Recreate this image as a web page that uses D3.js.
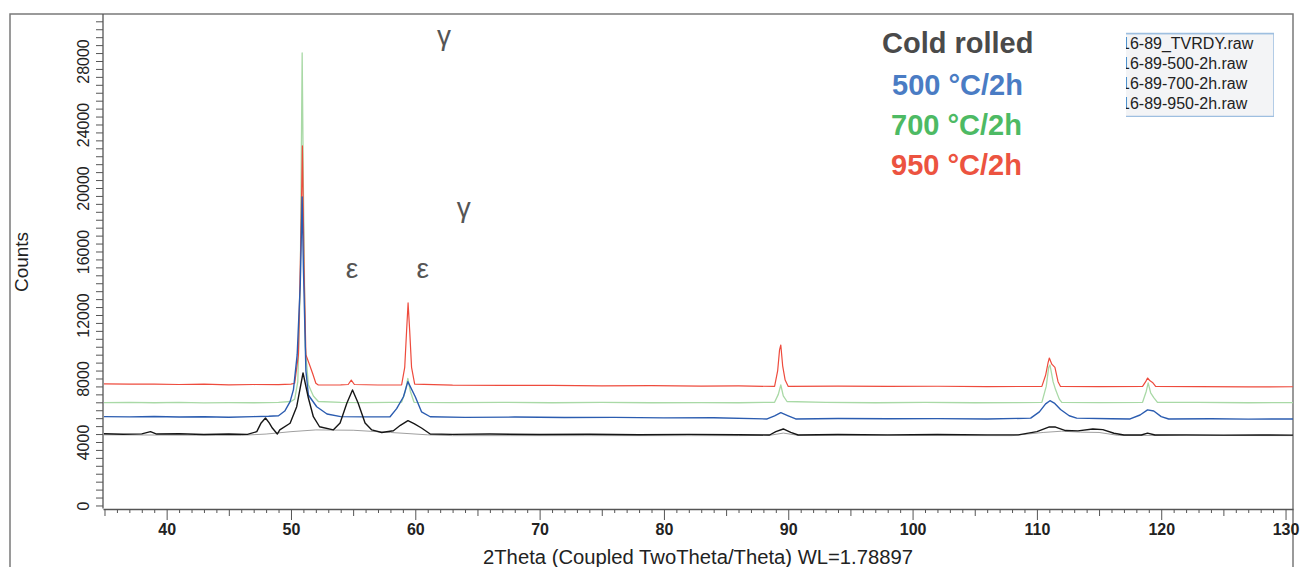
<!DOCTYPE html>
<html>
<head>
<meta charset="utf-8">
<script src="https://cdn.jsdelivr.net/npm/d3@7"></script>
<style>
  body { margin: 0; background: #fff; }
  svg { display: block; font-family: "Liberation Sans", Arial, sans-serif; }
</style>
</head>
<body>
<svg id="chart" width="1300" height="567"></svg>
<script>
// 2theta (deg) vs counts
const coldRolled = [
  [34.9, 4520], [36.5, 4490], [38.0, 4510], [38.7, 4650], [39.2, 4500], [41.0, 4520], [43.0, 4470],
  [45.0, 4500], [46.5, 4480], [47.25, 4650], [47.6, 5200], [47.95, 5510], [48.25, 5200], [48.5, 4880],
  [48.9, 4500], [49.1, 4760], [49.93, 5180], [50.46, 6220], [50.97, 8350], [51.4, 6770], [51.8, 5590],
  [52.3, 4960], [53.4, 4760], [53.95, 5200], [54.5, 6460], [54.95, 7280], [55.4, 6460], [55.96, 5200],
  [56.5, 4760], [57.3, 4600], [58.24, 4710], [58.8, 5050], [59.41, 5340], [59.9, 5150], [60.5, 4880],
  [61.2, 4500], [63.0, 4480], [66.0, 4500], [70.0, 4470], [74.0, 4490], [78.0, 4460], [82.0, 4480],
  [86.0, 4460], [88.5, 4440], [89.0, 4650], [89.6, 4820], [90.2, 4600], [90.8, 4440], [94.0, 4470],
  [98.0, 4450], [102.0, 4470], [106.0, 4450], [108.5, 4450], [110.0, 4650], [111.0, 4950], [111.5, 4940],
  [112.3, 4720], [113.3, 4700], [114.5, 4820], [115.3, 4780], [116.2, 4550], [117.0, 4440], [118.4, 4440],
  [118.9, 4560], [119.5, 4440], [122.0, 4450], [125.0, 4430], [128.0, 4440], [130.6, 4430]
];

const coldBackground = [
  [34.9, 4450], [46.0, 4420], [48.0, 4500], [50.0, 4650], [52.0, 4760], [55.0, 4740], [58.0, 4600],
  [61.0, 4450], [63.0, 4400], [86.0, 4400], [88.5, 4420], [89.6, 4560], [90.8, 4420], [108.0, 4400],
  [110.5, 4600], [112.0, 4680], [113.5, 4620], [115.0, 4600], [116.5, 4420], [130.6, 4400]
];

const t500 = [
  [34.9, 5600], [37.0, 5580], [39.0, 5610], [41.0, 5570], [43.0, 5590], [45.0, 5560], [47.0, 5600],
  [48.2, 5620], [49.0, 5650], [49.5, 5950], [49.93, 6540], [50.2, 7300], [50.5, 9500], [50.75, 14000],
  [50.9, 19440], [51.0, 15000], [51.2, 8500], [51.4, 6960], [52.07, 6220], [52.9, 5760], [54.0, 5600],
  [56.0, 5580], [57.97, 5590], [58.5, 6100], [59.05, 6850], [59.4, 7800], [60.0, 6850], [60.5, 5900],
  [61.2, 5590], [64.0, 5550], [68.0, 5570], [72.0, 5540], [76.0, 5550], [80.0, 5520], [84.0, 5530],
  [88.3, 5450], [88.9, 5650], [89.4, 5850], [90.0, 5650], [90.6, 5450], [94.0, 5480], [98.0, 5460],
  [102.0, 5470], [106.0, 5450], [109.5, 5500], [110.2, 5900], [110.7, 6400], [111.05, 6600], [111.4, 6450],
  [111.9, 6050], [112.6, 5650], [113.2, 5500], [116.0, 5460], [117.5, 5450], [118.3, 5700], [118.9, 6020],
  [119.4, 5950], [120.0, 5600], [120.6, 5450], [124.0, 5460], [127.0, 5440], [130.6, 5450]
];

const t700 = [
  [34.9, 6480], [37.0, 6500], [39.0, 6470], [41.0, 6490], [43.0, 6460], [45.0, 6480], [47.0, 6470],
  [49.0, 6490], [50.0, 6550], [50.3, 6700], [50.55, 7800], [50.75, 14000], [50.9, 28510], [51.0, 20000],
  [51.15, 10000], [51.4, 7600], [51.8, 6900], [52.2, 6550], [54.0, 6500], [56.0, 6480], [58.0, 6490],
  [58.9, 6500], [59.2, 7200], [59.4, 8000], [59.6, 7200], [59.9, 6500], [63.0, 6480], [67.0, 6500],
  [71.0, 6470], [75.0, 6490], [79.0, 6470], [83.0, 6480], [86.0, 6470], [88.9, 6500], [89.2, 7000],
  [89.4, 7590], [89.6, 6900], [89.9, 6550], [93.0, 6490], [97.0, 6470], [101.0, 6490], [105.0, 6470],
  [108.0, 6480], [110.4, 6500], [110.75, 7500], [110.95, 8700], [111.05, 8850], [111.3, 7800], [111.5, 7300],
  [111.8, 6700], [112.0, 6500], [115.0, 6480], [118.5, 6500], [118.8, 7200], [118.95, 7720], [119.15, 7100],
  [119.4, 6800], [119.7, 6500], [123.0, 6490], [127.0, 6470], [130.6, 6480]
];

const t950 = [
  [34.9, 7660], [37.0, 7640], [39.0, 7650], [41.0, 7620], [43.0, 7640], [45.0, 7600], [47.0, 7620],
  [49.0, 7610], [50.0, 7650], [50.3, 7700], [50.6, 9500], [50.8, 17000], [50.92, 22650], [51.05, 15000],
  [51.2, 9500], [51.5, 8850], [51.75, 8300], [52.0, 7700], [52.2, 7590], [54.0, 7600], [54.6, 7620],
  [54.85, 7900], [55.1, 7620], [57.0, 7590], [58.9, 7600], [59.15, 8700], [59.3, 11000], [59.42, 12760],
  [59.55, 11000], [59.7, 8700], [59.95, 7650], [63.0, 7580], [67.0, 7560], [71.0, 7570], [75.0, 7540],
  [79.0, 7550], [83.0, 7520], [86.0, 7530], [88.9, 7500], [89.15, 8500], [89.3, 9800], [89.4, 10110],
  [89.55, 8800], [89.75, 7900], [90.0, 7500], [94.0, 7520], [98.0, 7500], [102.0, 7510], [106.0, 7490],
  [110.4, 7500], [110.7, 8200], [110.9, 9000], [111.0, 9290], [111.2, 8900], [111.45, 8700], [111.7, 7800],
  [111.9, 7500], [115.0, 7490], [118.5, 7500], [118.75, 7800], [118.9, 8030], [119.1, 7850], [119.3, 7750],
  [119.55, 7500], [123.0, 7490], [127.0, 7470], [130.6, 7480]
];

const legendFiles = ["16-89_TVRDY.raw", "16-89-500-2h.raw", "16-89-700-2h.raw", "16-89-950-2h.raw"];
const sampleLabels = ["Cold rolled", "500 °C/2h", "700 °C/2h", "950 °C/2h"];
const phaseMarks = [
  { t: "γ", x: 62.3, c: 29000 },
  { t: "γ", x: 63.9, c: 18200 },
  { t: "ε", x: 54.9, c: 14350 },
  { t: "ε", x: 60.6, c: 14350 }
];

const svg = d3.select("#chart");

const x = d3.scaleLinear().domain([34.88, 130.6]).range([103, 1293]);
const y = d3.scaleLinear().domain([-190, 30960]).range([508.5, 14]);

// outer frame
svg.append("path")
    .attr("d", "M10,567 V14 H1293 V567")
    .attr("fill", "none")
    .attr("stroke", "#7a7a7a")
    .attr("stroke-width", 1.5);

// x axis
const xAxis = svg.append("g")
    .attr("transform", "translate(0,509)")
    .call(d3.axisBottom(x)
        .tickValues(d3.range(35, 131, 1))
        .tickSizeOuter(0)
        .tickFormat(d => d % 10 === 0 ? d : ""));
xAxis.select(".domain").attr("stroke", "#555").attr("stroke-width", 1.3);
xAxis.selectAll(".tick line")
    .attr("stroke", "#555")
    .attr("y2", d => d % 10 === 0 ? 11 : (d % 5 === 0 ? 7 : 4));
xAxis.selectAll(".tick text")
    .attr("y", 15)
    .attr("dy", "0.71em")
    .attr("font-size", 16)
    .attr("font-weight", "bold")
    .attr("font-family", "Liberation Sans, Arial, sans-serif")
    .attr("fill", "#222");

// y axis
const yAxis = svg.append("g")
    .attr("transform", "translate(103,0)")
    .call(d3.axisLeft(y)
        .tickValues(d3.range(0, 30501, 500))
        .tickSize(7)
        .tickSizeOuter(0)
        .tickFormat(d => d % 4000 === 0 ? d : ""));
yAxis.select(".domain").attr("stroke", "#555").attr("stroke-width", 1.3);
yAxis.selectAll(".tick line").attr("stroke", "#555");
yAxis.selectAll(".tick text")
    .attr("x", null)
    .attr("dy", null)
    .attr("text-anchor", "middle")
    .attr("transform", "translate(-14,0) rotate(-90)")
    .attr("font-size", 16)
    .attr("font-family", "Liberation Sans Narrow, Liberation Sans, Arial, sans-serif")
    .attr("fill", "#222");
yAxis.select(".domain").attr("d", `M0,${y.range()[0]}V14`);

// axis titles
svg.append("text")
    .attr("transform", "translate(28,262) rotate(-90)")
    .attr("text-anchor", "middle")
    .attr("font-size", 19)
    .attr("fill", "#222")
    .text("Counts");

svg.append("text")
    .attr("x", 483)
    .attr("y", 564)
    .attr("textLength", 430)
    .attr("lengthAdjust", "spacingAndGlyphs")
    .attr("font-size", 20)
    .attr("fill", "#222")
    .text("2Theta (Coupled TwoTheta/Theta) WL=1.78897");

// clip the traces to the plot area
svg.append("clipPath").attr("id", "plotclip")
    .append("rect").attr("x", 104).attr("y", 14).attr("width", 1189).attr("height", 494);

const plot = svg.append("g").attr("clip-path", "url(#plotclip)");

const line = d3.line()
    .x(d => x(d[0]))
    .y(d => y(d[1]));

plot.append("path")
    .datum(coldBackground)
    .attr("d", line)
    .attr("fill", "none")
    .attr("stroke", "#a0a0a0")
    .attr("stroke-width", 1);

const traces = [
  { data: t700, color: "#a9d9a6", width: 1.3 },
  { data: t950, color: "#ee4b3d", width: 1.2 },
  { data: t500, color: "#2b5cb0", width: 1.4 },
  { data: coldRolled, color: "#161616", width: 1.4 }
];

plot.selectAll("path.trace")
    .data(traces)
    .enter().append("path")
    .attr("class", "trace")
    .attr("d", d => line(d.data))
    .attr("fill", "none")
    .attr("stroke", d => d.color)
    .attr("stroke-width", d => d.width)
    .attr("stroke-linejoin", "round");

// phase marks
svg.append("g")
    .selectAll("text")
    .data(phaseMarks)
    .enter().append("text")
    .attr("x", d => x(d.x))
    .attr("y", d => y(d.c))
    .attr("text-anchor", "middle")
    .attr("font-size", 28)
    .attr("fill", "#555")
    .text(d => d.t);

// sample labels
const sampleColors = ["#4a4a4a", "#4a7cc4", "#4dba64", "#ec5340"];
const sampleX = [882, 892, 891, 891];
const sampleY = [53, 95, 135, 175];
svg.append("g")
    .selectAll("text")
    .data(sampleLabels)
    .enter().append("text")
    .attr("x", (d, i) => sampleX[i])
    .attr("y", (d, i) => sampleY[i])
    .attr("font-size", 29)
    .attr("font-weight", "bold")
    .attr("fill", (d, i) => sampleColors[i])
    .text(d => d);

// legend box (text cut at its left edge like in the original)
svg.append("clipPath").attr("id", "legclip")
    .append("rect").attr("x", 1126).attr("y", 33).attr("width", 148).attr("height", 84);

svg.append("rect")
    .attr("x", 1120).attr("y", 33.5)
    .attr("width", 154).attr("height", 83)
    .attr("fill", "#f3f4f6")
    .attr("stroke", "#9ebfe0")
    .attr("stroke-width", 1.5)
    .attr("clip-path", "url(#legclip)");
svg.append("line")
    .attr("x1", 1126).attr("x2", 1274).attr("y1", 33.5).attr("y2", 33.5)
    .attr("stroke", "#9ebfe0").attr("stroke-width", 1.5);

svg.append("g")
    .attr("clip-path", "url(#legclip)")
    .selectAll("text")
    .data(legendFiles)
    .enter().append("text")
    .attr("x", 1121)
    .attr("y", (d, i) => 48.5 + i * 20.3)
    .attr("font-size", 16)
    .attr("fill", "#222")
    .text(d => d);
</script>
</body>
</html>
